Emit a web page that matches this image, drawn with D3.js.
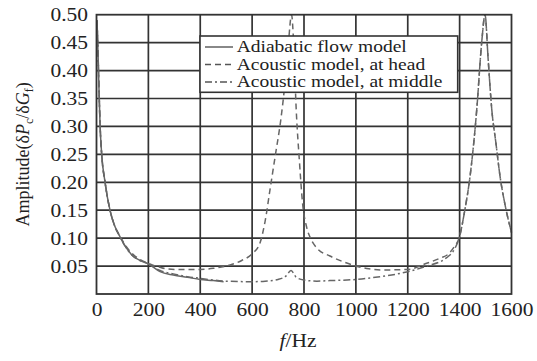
<!DOCTYPE html>
<html>
<head>
<meta charset="utf-8">
<script src="https://cdn.jsdelivr.net/npm/d3@7"></script>
<style>
  body { margin: 0; background: #fff; }
  text { font-family: "Liberation Serif", "Times New Roman", serif; fill: #222; }
</style>
</head>
<body>
<svg id="chart" width="537" height="361"></svg>
<script>
// adiabatic flow model (solid), only drawn up to ~500 Hz
var adiabaticF = [2, 6, 10, 14, 20, 33, 52, 70, 90, 110, 136, 168, 200, 245, 296, 350, 400, 450, 490];
var adiabaticV = [0.49, 0.43, 0.36, 0.3, 0.25, 0.2, 0.15, 0.122, 0.103, 0.086, 0.07, 0.06, 0.054, 0.04, 0.034, 0.03, 0.026, 0.024, 0.022];

// acoustic model, at head (dashed)
var headF = [2, 6, 10, 14, 20, 33, 52, 70, 90, 110, 136, 160, 200, 250, 300, 350, 400, 450, 515, 560, 600, 630, 650, 670, 690, 710, 725, 740, 752,
  760, 770, 782, 795, 810, 825, 850, 900, 950, 1000, 1050, 1100, 1200, 1273, 1324, 1360, 1380, 1398, 1420, 1440, 1466, 1485, 1498,
  1510, 1524, 1540, 1556, 1575, 1600];
var headV = [0.49, 0.43, 0.36, 0.3, 0.25, 0.2, 0.15, 0.122, 0.104, 0.088, 0.073, 0.064, 0.055, 0.047, 0.044, 0.044, 0.044, 0.046, 0.052, 0.06, 0.072, 0.091, 0.13, 0.19, 0.25, 0.31, 0.37, 0.45, 0.5,
  0.45, 0.33, 0.24, 0.16, 0.12, 0.1, 0.082, 0.068, 0.058, 0.05, 0.045, 0.043, 0.044, 0.055, 0.064, 0.073, 0.085, 0.1, 0.15, 0.21, 0.33, 0.45, 0.5,
  0.42, 0.33, 0.27, 0.21, 0.16, 0.11];

// acoustic model, at middle (dash-dot)
var middleF = [2, 6, 10, 14, 20, 33, 52, 70, 90, 110, 136, 168, 200, 245, 296, 350, 400, 450, 500, 600, 650, 700, 730, 750, 770, 800, 850, 900, 1000,
  1093, 1150, 1200, 1273, 1350, 1380, 1398, 1420, 1440, 1466, 1485, 1498, 1510, 1524, 1540, 1556, 1575, 1600];
var middleV = [0.49, 0.43, 0.36, 0.3, 0.25, 0.2, 0.15, 0.122, 0.103, 0.086, 0.07, 0.06, 0.054, 0.042, 0.036, 0.031, 0.028, 0.025, 0.023, 0.022, 0.023, 0.026, 0.032, 0.042, 0.03, 0.025, 0.023, 0.024, 0.026,
  0.031, 0.035, 0.04, 0.05, 0.065, 0.08, 0.1, 0.15, 0.21, 0.33, 0.45, 0.5, 0.42, 0.33, 0.27, 0.21, 0.16, 0.11];

var xTicks = [0, 200, 400, 600, 800, 1000, 1200, 1400, 1600];
var yTicks = [0.05, 0.10, 0.15, 0.20, 0.25, 0.30, 0.35, 0.40, 0.45, 0.50];

var legendLabels = ["Adiabatic flow model", "Acoustic model, at head", "Acoustic model, at middle"];
var dashes = [null, "6,4", "7,3,2,3"];

var W = 537, H = 361;
var margin = {top: 14.7, right: 25.5, bottom: 67, left: 96.5};
var stretch = 1.13; // the source type is a bit wide

var svg = d3.select("#chart");
var g = svg.append("g").attr("transform", "translate(" + margin.left + "," + margin.top + ")");
var w = W - margin.left - margin.right, h = H - margin.top - margin.bottom;

var x = d3.scaleLinear().domain([0, 1600]).range([0, w]);
var y = d3.scaleLinear().domain([0, 0.5]).range([h, 0]);

// grid
g.selectAll(".vgrid").data(xTicks.slice(1, -1)).enter().append("line")
  .attr("x1", d => x(d)).attr("x2", d => x(d)).attr("y1", 0).attr("y2", h)
  .attr("stroke", "#333").attr("stroke-width", 1.7);
g.selectAll(".hgrid").data(yTicks.slice(0, -1)).enter().append("line")
  .attr("y1", d => y(d)).attr("y2", d => y(d)).attr("x1", 0).attr("x2", w)
  .attr("stroke", "#333").attr("stroke-width", 1.7);

// curves
var series = [
  {f: adiabaticF, v: adiabaticV},
  {f: headF, v: headV},
  {f: middleF, v: middleV}
];
var line = d3.line().x(d => x(d[0])).y(d => y(d[1])).curve(d3.curveMonotoneX);
series.forEach(function(s, i) {
  var pts = s.f.map((f, j) => [f, s.v[j]]);
  g.append("path").datum(pts)
    .attr("d", line)
    .attr("fill", "none")
    .attr("stroke", "#666")
    .attr("stroke-width", 1.5)
    .attr("stroke-dasharray", dashes[i]);
});

// frame
g.append("rect").attr("width", w).attr("height", h)
  .attr("fill", "none").attr("stroke", "#333").attr("stroke-width", 1.8);

// axes (labels only)
var ya = g.append("g").call(d3.axisLeft(y).tickValues(yTicks).tickFormat(d3.format(".2f")).tickSize(0).tickPadding(7.5));
var xa = g.append("g").attr("transform", "translate(0," + h + ")")
  .call(d3.axisBottom(x).tickValues(xTicks).tickFormat(d3.format("d")).tickSize(0).tickPadding(9));
[ya, xa].forEach(function(a) {
  a.select(".domain").remove();
  a.selectAll("text")
    .attr("font-family", "Liberation Serif, serif")
    .attr("font-size", 19)
    .attr("fill", "#222")
    .attr("transform", "scale(" + stretch + ",1)");
});

// axis titles
var yl = svg.append("text")
  .attr("transform", "translate(29," + (margin.top + h / 2) + ") rotate(-90)")
  .attr("text-anchor", "middle")
  .attr("font-size", 18);
yl.append("tspan").text("Amplitude(δ");
yl.append("tspan").attr("font-style", "italic").text("P");
yl.append("tspan").attr("font-size", 12).attr("dy", 4).text("c");
yl.append("tspan").attr("dy", -4).text("/δ");
yl.append("tspan").attr("font-style", "italic").text("G");
yl.append("tspan").attr("font-size", 12).attr("dy", 4).text("f");
yl.append("tspan").attr("dy", -4).text(")");

var xl = svg.append("text")
  .attr("transform", "translate(298,347) scale(" + stretch + ",1)")
  .attr("text-anchor", "middle")
  .attr("font-size", 19);
xl.append("tspan").attr("font-style", "italic").text("f");
xl.append("tspan").text("/Hz");

// legend
var lg = svg.append("g").attr("transform", "translate(200,36)");
lg.append("rect").attr("width", 257.7).attr("height", 56.3)
  .attr("fill", "#fff").attr("stroke", "#333").attr("stroke-width", 1.6);
legendLabels.forEach(function(name, i) {
  var cy = 11 + i * 17.5;
  lg.append("line").attr("x1", 5).attr("x2", 33).attr("y1", cy).attr("y2", cy)
    .attr("stroke", "#555").attr("stroke-width", 1.4).attr("stroke-dasharray", dashes[i]);
  lg.append("text")
    .attr("transform", "translate(36.7," + (cy + 5.3) + ") scale(1.22,1)")
    .attr("font-size", 16)
    .text(name);
});
</script>
</body>
</html>
